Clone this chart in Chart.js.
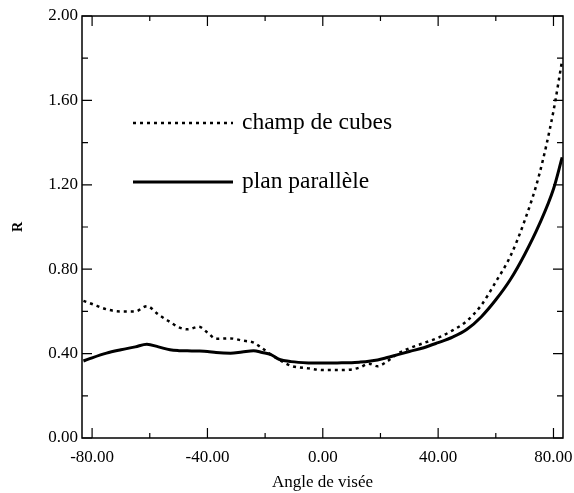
<!DOCTYPE html>
<html>
<head>
<meta charset="utf-8">
<script src="https://cdn.jsdelivr.net/npm/chart.js@4"></script>
<style>
  html, body { margin: 0; padding: 0; background: #fff; }
  #wrap { width: 574px; height: 493px; }
</style>
</head>
<body>
<div id="wrap"><canvas id="graphe"></canvas></div>
<script>
// angles de visée (degrés)
const angles = [-83, -80, -75, -70, -65, -61, -57, -53, -50, -47, -43, -40, -37, -32, -28, -24, -21, -18, -15, -11,
  -5, 0, 5, 10, 13, 16, 19, 22, 26, 30, 35, 40, 45, 50, 55, 60, 65, 70, 75, 80, 83];

// R - champ de cubes (pointillés)
const champCubes = [0.65, 0.635, 0.61, 0.60, 0.60, 0.625, 0.585, 0.55, 0.525, 0.515, 0.527, 0.50, 0.47, 0.472, 0.462, 0.452, 0.425, 0.395, 0.37, 0.342,
  0.33, 0.322, 0.322, 0.325, 0.335, 0.352, 0.34, 0.36, 0.40, 0.425, 0.45, 0.475, 0.51, 0.555, 0.63, 0.74, 0.86, 1.03, 1.245, 1.55, 1.79];

// R - plan parallèle (trait plein)
const planParallele = [0.365, 0.38, 0.402, 0.418, 0.432, 0.444, 0.432, 0.418, 0.414, 0.413, 0.412, 0.41, 0.405, 0.402, 0.408, 0.414, 0.405, 0.395, 0.372, 0.362,
  0.356, 0.355, 0.356, 0.357, 0.36, 0.364, 0.37, 0.38, 0.395, 0.41, 0.428, 0.452, 0.478, 0.515, 0.575, 0.655, 0.75, 0.87, 1.01, 1.18, 1.33];

const serie = (vals) => angles.map((a, i) => ({ x: a, y: vals[i] }));

// cadre + graduations vers l'intérieur
const cadre = {
  id: 'cadre',
  afterDatasetsDraw(chart) {
    const { ctx, chartArea: a, scales: { x, y } } = chart;
    ctx.save();
    ctx.strokeStyle = '#000';
    ctx.lineWidth = 1.5;
    ctx.strokeRect(a.left, a.top, a.right - a.left, a.bottom - a.top);
    ctx.lineWidth = 1.2;
    const tiret = (vals, horiz, len) => {
      vals.forEach(v => {
        ctx.beginPath();
        if (horiz) {
          const p = x.getPixelForValue(v);
          ctx.moveTo(p, a.bottom); ctx.lineTo(p, a.bottom - len);
          ctx.moveTo(p, a.top); ctx.lineTo(p, a.top + len);
        } else {
          const p = y.getPixelForValue(v);
          ctx.moveTo(a.left, p); ctx.lineTo(a.left + len, p);
          ctx.moveTo(a.right, p); ctx.lineTo(a.right - len, p);
        }
        ctx.stroke();
      });
    };
    const milieux = (t) => t.slice(1).map((k, i) => (k.value + t[i].value) / 2);
    tiret(x.ticks.map(t => t.value), true, 10);
    tiret(milieux(x.ticks), true, 5);
    tiret(y.ticks.map(t => t.value), false, 10);
    tiret(milieux(y.ticks), false, 6);
    ctx.restore();
  }
};

// légende dans le graphe
const legende = {
  id: 'legende',
  afterDraw(chart) {
    const ctx = chart.ctx;
    const lignes = [123, 182];
    ctx.save();
    chart.data.datasets.forEach((ds, i) => {
      const yy = lignes[i];
      ctx.strokeStyle = ds.borderColor;
      ctx.lineWidth = ds.borderWidth;
      ctx.setLineDash(ds.borderDash || []);
      ctx.beginPath();
      ctx.moveTo(133, yy);
      ctx.lineTo(233, yy);
      ctx.stroke();
      ctx.setLineDash([]);
      ctx.fillStyle = '#000';
      ctx.font = '23.5px "Liberation Serif"';
      ctx.textBaseline = 'middle';
      ctx.fillText(ds.label, 242, yy);
    });
    ctx.restore();
  }
};

new Chart(document.getElementById('graphe').getContext('2d'), {
  type: 'line',
  data: {
    datasets: [{
      label: 'champ de cubes',
      data: serie(champCubes),
      borderColor: '#000',
      borderWidth: 2.5,
      borderDash: [3, 4],
      pointRadius: 0,
      cubicInterpolationMode: 'monotone',
      fill: false
    }, {
      label: 'plan parallèle',
      data: serie(planParallele),
      borderColor: '#000',
      borderWidth: 3,
      pointRadius: 0,
      cubicInterpolationMode: 'monotone',
      fill: false
    }]
  },
  options: {
    responsive: true,
    maintainAspectRatio: false,
    animation: false,
    layout: { padding: { top: 16, right: 11, left: 0, bottom: 0 } },
    plugins: {
      legend: { display: false },
      tooltip: { enabled: false }
    },
    scales: {
      x: {
        type: 'linear',
        min: -83.5,
        max: 83.3,
        afterFit(s) { s.height = 55; s.paddingLeft = 0; s.paddingRight = 0; },
        grid: { display: false, drawTicks: false },
        border: { display: false },
        ticks: {
          stepSize: 40,
          includeBounds: false,
          padding: 9,
          color: '#000',
          font: { family: 'Liberation Serif', size: 17 },
          callback: v => v.toFixed(2)
        },
        title: {
          display: true,
          text: 'Angle de visée',
          color: '#000',
          font: { family: 'Liberation Serif', size: 17 },
          padding: { top: 0, bottom: 0 }
        }
      },
      y: {
        min: 0,
        max: 2,
        afterFit(s) { s.width = 82; s.paddingTop = 0; s.paddingBottom = 0; },
        grid: { display: false, drawTicks: false },
        border: { display: false },
        ticks: {
          stepSize: 0.4,
          padding: 4,
          color: '#000',
          font: { family: 'Liberation Serif', size: 17 },
          callback: v => v.toFixed(2)
        },
        title: {
          display: true,
          text: 'R',
          color: '#000',
          font: { family: 'Liberation Serif', size: 14, weight: 'bold' },
          padding: { top: 10, bottom: 0 }
        }
      }
    }
  },
  plugins: [cadre, legende]
});
</script>
</body>
</html>
